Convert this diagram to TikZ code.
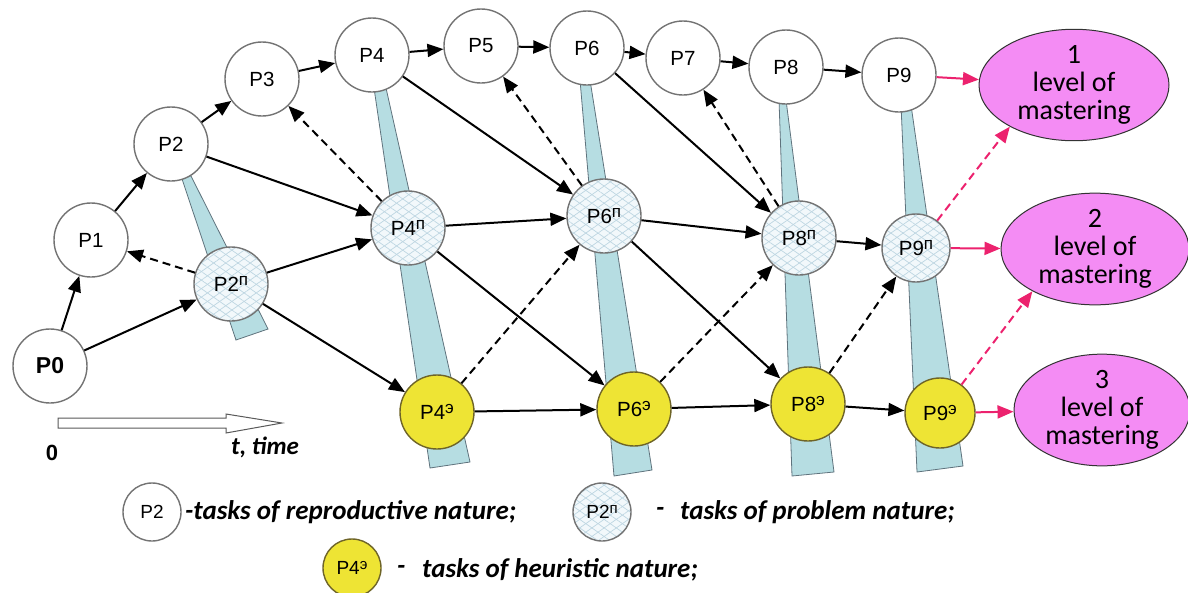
\documentclass[tikz,border=0pt]{standalone}
\usepackage{fontspec}
\setmainfont{Liberation Sans}
\newfontfamily\calib{Carlito}
\usetikzlibrary{arrows.meta,patterns.meta,shapes.geometric}
\definecolor{wedgec}{RGB}{182,221,226}
\definecolor{wedgeb}{RGB}{95,115,125}
\definecolor{yel}{RGB}{238,228,52}
\definecolor{yelb}{RGB}{110,100,40}
\definecolor{pinkf}{RGB}{244,140,244}
\definecolor{pinka}{RGB}{236,34,110}
\definecolor{hatchc}{RGB}{190,214,226}
\definecolor{hatchf}{RGB}{242,248,251}
\definecolor{nodeb}{RGB}{115,115,115}
\newcommand{\supp}[1]{\raisebox{6.5pt}{\fontsize{17}{17}\selectfont #1}}
\newcommand{\supl}[1]{\raisebox{5.5pt}{\fontsize{15}{15}\selectfont #1}}
\begin{document}
\begin{tikzpicture}[x=1pt,y=-1pt,
  task/.style={circle, draw=nodeb, line width=1.4pt, fill=white, minimum size=74pt, inner sep=0pt, font=\fontsize{20.5}{22}\selectfont},
  prob/.style={task, fill=none,
    preaction={fill=hatchf},
    preaction={pattern={Lines[angle=35,distance=7pt,line width=0.7pt]}, pattern color=hatchc},
    preaction={pattern={Lines[angle=-35,distance=7pt,line width=0.7pt]}, pattern color=hatchc}},
  heur/.style={task, fill=yel, draw=yelb},
  lvl/.style={ellipse, draw=black!80, line width=1pt, fill=pinkf, inner sep=0pt, align=center, font=\calib\fontsize{28}{28}\selectfont},
  arr/.style={-{Triangle[length=16pt,width=13pt]}, line width=2pt, black},
  dsh/.style={arr, dash pattern=on 8pt off 5pt},
  parr/.style={-{Triangle[length=16pt,width=13pt]}, line width=2pt, pinka},
  pdsh/.style={parr, dash pattern=on 8pt off 5pt},
  wedge/.style={fill=wedgec, draw=wedgeb, line width=0.8pt},
  lgd/.style={font=\calib\bfseries\itshape\fontsize{27}{28}\selectfont, anchor=west, inner sep=0pt},
  lnode/.style={minimum size=58pt, font=\fontsize{19}{20}\selectfont}
]
\useasboundingbox (0,0) rectangle (1188,592);
% wedges
\path[wedge] (181,176) -- (191,176) -- (268,329) -- (236,340) -- cycle;
\path[wedge] (374,88) -- (386,88) -- (470,462) -- (430,468) -- cycle;
\path[wedge] (580,80) -- (590,80) -- (652,470) -- (614,476) -- cycle;
\path[wedge] (779,100) -- (786,100) -- (834,472) -- (792,476) -- cycle;
\path[wedge] (901,105) -- (911,105) -- (963,466) -- (917,472) -- cycle;
% top row
\node[task, font=\bfseries\fontsize{23}{24}\selectfont] (p0) at (50,366) {P0};
\node[task] (p1) at (91,240) {P1};
\node[task] (p2) at (171,144) {P2};
\node[task] (p3) at (262,79) {P3};
\node[task] (p4) at (372,55) {P4};
\node[task] (p5) at (481,46) {P5};
\node[task] (p6) at (587,48) {P6};
\node[task] (p7) at (683,58) {P7};
\node[task] (p8) at (786,67) {P8};
\node[task] (p9) at (899,75) {P9};
% problem row
\node[prob] (q2) at (231,284) {P2\supp{п}};
\node[prob] (q4) at (408,228) {P4\supp{п}};
\node[prob] (q6) at (604,216) {P6\supp{п}};
\node[prob] (q8) at (799,238) {P8\supp{п}};
\node[prob, minimum size=68pt] (q9) at (916,248) {P9\supp{п}};
% heuristic row
\node[heur] (h4) at (437,412) {P4\supp{э}};
\node[heur] (h6) at (634,409) {P6\supp{э}};
\node[heur] (h8) at (808,404) {P8\supp{э}};
\node[heur, minimum size=70pt] (h9) at (940,413) {P9\supp{э}};
% levels
\node[lvl, minimum width=190pt, minimum height=106pt] (e1) at (1074,85) {1\\level of\\mastering};
\node[lvl, minimum width=188pt, minimum height=108pt] (e2) at (1095,249) {2\\level of\\mastering};
\node[lvl, minimum width=176pt, minimum height=104pt] (e3) at (1102,410) {3\\level of\\mastering};
% solid arrows
\foreach \a/\b in {p0/p1,p1/p2,p2/p3,p3/p4,p4/p5,p5/p6,p6/p7,p7/p8,p8/p9,
  p0/q2,p2/q4,q2/q4,q2/h4,p4/q6,q4/q6,q4/h6,h4/h6,p6/q8,q6/q8,q6/h8,h6/h8,q8/q9,h8/h9}
  \draw[arr] (\a) -- (\b);
% dashed arrows
\foreach \a/\b in {q2/p1,q4/p3,q6/p5,h4/q6,q8/p7,h6/q8,h8/q9}
  \draw[dsh] (\a) -- (\b);
% pink arrows
\draw[parr] (p9) -- (e1);
\draw[parr] (q9) -- (e2);
\draw[parr] (h9) -- (e3);
\draw[pdsh] (q9) -- (e1.213);
\draw[pdsh] (h9) -- (e2.214);
% time axis
\path[draw=black!65, line width=1pt, fill=white] (58,418) -- (226,418) -- (226,414) -- (282,423) -- (226,433) -- (226,428) -- (58,428) -- cycle;
\node[font=\bfseries\fontsize{22}{24}\selectfont] (zero) at (52,453) {0};
\node[font=\calib\bfseries\itshape\fontsize{25}{28}\selectfont] (time) at (265,447) {t, time};
% legend
\node[task, lnode] (l1) at (152,512) {P2};
\node[lgd] (l1t) at (185,512) {-tasks of reproductive nature;};
\node[prob, lnode] (l2) at (602,512) {P2\supl{п}};
\node[lgd] (l2d) at (656,512) {-};
\node[lgd] (l2t) at (680,512) {tasks of problem nature;};
\node[heur, lnode] (l3) at (352,568) {P4\supl{э}};
\node[lgd] (l3d) at (397,570) {-};
\node[lgd] (l3t) at (422,570) {tasks of heuristic nature;};
\end{tikzpicture}
\end{document}
